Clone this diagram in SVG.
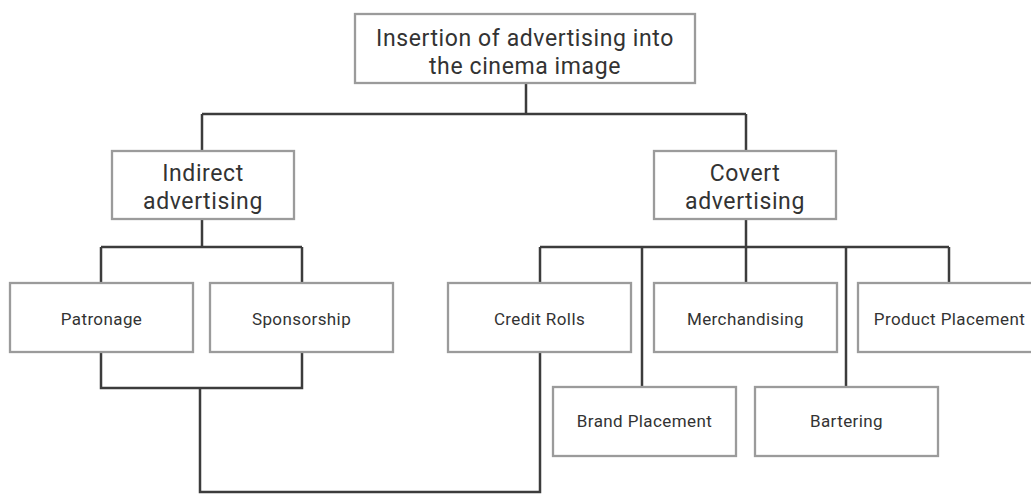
<svg xmlns="http://www.w3.org/2000/svg" width="1031" height="494" viewBox="0 0 1031 494">
  <style>
    .box { fill: #ffffff; stroke: #9b9b9b; stroke-width: 2.3; }
    .lbl { font-family: Roboto, "Liberation Sans", sans-serif; fill: #333333; text-anchor: middle; }
    .big { font-size: 23px; letter-spacing: 0.6px; }
    .small { font-size: 17px; letter-spacing: 0.4px; }
    .wire { fill: none; stroke: #3c3c3c; stroke-width: 2.5; }
  </style>

  <!-- connectors -->
  <g id="connectors">
    <path class="wire" d="M526 83 V114 M202 114 H746 M202 114 V151 M746 114 V151"/>
    <path class="wire" d="M202 219 V247 M101 247 H302 M101 247 V283 M302 247 V283"/>
    <path class="wire" d="M746 219 V247 M540 247 H949 M540 247 V283 M642 247 V387 M746 247 V283 M846 247 V387 M949 247 V283"/>
    <path class="wire" d="M101 352 V388 H302 V352 M200 388 V492 H540 V352"/>
  </g>

  <!-- root -->
  <g id="root">
    <rect class="box" x="355" y="14" width="340" height="69"/>
    <text class="lbl big" x="525" y="46">Insertion of advertising into</text>
    <text class="lbl big" x="525" y="74">the cinema image</text>
  </g>

  <!-- second level -->
  <g id="indirect">
    <rect class="box" x="112" y="151" width="182" height="68"/>
    <text class="lbl big" x="203" y="181">Indirect</text>
    <text class="lbl big" x="203" y="209">advertising</text>
  </g>
  <g id="covert">
    <rect class="box" x="654" y="151" width="182" height="68"/>
    <text class="lbl big" x="745" y="181">Covert</text>
    <text class="lbl big" x="745" y="209">advertising</text>
  </g>

  <!-- indirect children -->
  <g id="patronage">
    <rect class="box" x="10" y="283" width="183" height="69"/>
    <text class="lbl small" x="101.5" y="324.5">Patronage</text>
  </g>
  <g id="sponsorship">
    <rect class="box" x="210" y="283" width="183" height="69"/>
    <text class="lbl small" x="301.5" y="324.5">Sponsorship</text>
  </g>

  <!-- covert children -->
  <g id="credit-rolls">
    <rect class="box" x="448" y="283" width="183" height="69"/>
    <text class="lbl small" x="539.5" y="324.5">Credit Rolls</text>
  </g>
  <g id="merchandising">
    <rect class="box" x="654" y="283" width="183" height="69"/>
    <text class="lbl small" x="745.5" y="324.5">Merchandising</text>
  </g>
  <g id="product-placement">
    <rect class="box" x="858" y="283" width="183" height="69"/>
    <text class="lbl small" x="949.5" y="324.5">Product Placement</text>
  </g>
  <g id="brand-placement">
    <rect class="box" x="553" y="387" width="183" height="69"/>
    <text class="lbl small" x="644.5" y="427">Brand Placement</text>
  </g>
  <g id="bartering">
    <rect class="box" x="755" y="387" width="183" height="69"/>
    <text class="lbl small" x="846.5" y="427">Bartering</text>
  </g>
</svg>
